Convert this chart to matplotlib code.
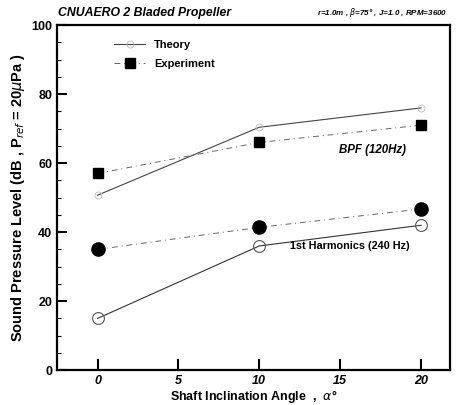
import matplotlib.pyplot as plt
from matplotlib.ticker import MultipleLocator

plt.rcParams['font.family'] = ['Liberation Sans', 'DejaVu Sans']

# shaft inclination angle (deg)
angle = [0, 10, 20]
# BPF (120 Hz)
bpf_theory = [50.7, 70.4, 76.0]
bpf_exp = [57.0, 66.0, 71.0]
# 1st harmonics (240 Hz)
h1_theory = [15.0, 36.0, 42.0]
h1_exp = [35.0, 41.4, 46.7]

fig = plt.figure(figsize=(4.57, 4.05), dpi=100)
ax = fig.add_axes([0.125, 0.086, 0.86, 0.852])

# theory curves
ax.plot(angle, bpf_theory, '-', color='#444444', lw=0.8, marker='o', ms=5,
        mfc='none', mec='#bbbbbb', mew=0.6, label='Theory')
ax.plot(angle, h1_theory, '-', color='#333333', lw=0.8, marker='o', ms=8.5,
        mfc='none', mec='#555555', mew=0.8)
# experiments
ax.plot(angle, bpf_exp, linestyle=(0, (6, 4, 1, 4)), color='#666666', lw=0.7,
        marker='s', ms=7, mfc='black', mec='black', label='Experiment')
ax.plot(angle, h1_exp, linestyle=(0, (6, 4, 1, 4)), color='#666666', lw=0.7,
        marker='o', ms=9.5, mfc='black', mec='black')

ax.text(17.0, 63.8, 'BPF (120Hz)', fontsize=8.3, fontweight='bold', style='italic',
        ha='center', va='center')
ax.text(11.9, 36.0, '1st Harmonics (240 Hz)', fontsize=7.8, fontweight='bold',
        ha='left', va='center')

ax.set_xlim(-2.5, 21.8)
ax.set_ylim(0, 100)
ax.xaxis.set_major_locator(MultipleLocator(5))
ax.yaxis.set_major_locator(MultipleLocator(20))
ax.yaxis.set_minor_locator(MultipleLocator(5))
ax.tick_params(direction='in', which='major', length=7, width=1.5, labelsize=9)
ax.tick_params(direction='in', which='minor', length=3, width=0.8)
ax.tick_params(axis='x', which='major', length=8)
for lab in ax.get_xticklabels():
    lab.set_fontstyle('italic')
    lab.set_fontweight('bold')
for lab in ax.get_yticklabels():
    lab.set_fontweight('bold')
for sp in ax.spines.values():
    sp.set_linewidth(1.6)

ax.set_xlabel(r'Shaft Inclination Angle  ,  $\alpha$°', fontsize=9, fontweight='bold', labelpad=1)
ax.set_ylabel(r'Sound Pressure Level (dB , P$_{ref}$ = 20$\mu$Pa )', fontsize=10.5,
              fontweight='bold', labelpad=3)

leg = ax.legend(loc='upper left', bbox_to_anchor=(0.12, 0.985), frameon=False,
                prop={'weight': 'bold', 'size': 8}, handlelength=2.8,
                labelspacing=0.8)

fig.text(0.127, 0.968, 'CNUAERO 2 Bladed Propeller', fontsize=8.8, fontweight='bold',
         style='italic', ha='left', va='center')
fig.text(0.978, 0.968, r'r=1.0m , $\beta$=75° , J=1.0 , RPM=3600', fontsize=5.8,
         fontweight='bold', style='italic', ha='right', va='center')

fig.savefig('out.png', dpi=100)
